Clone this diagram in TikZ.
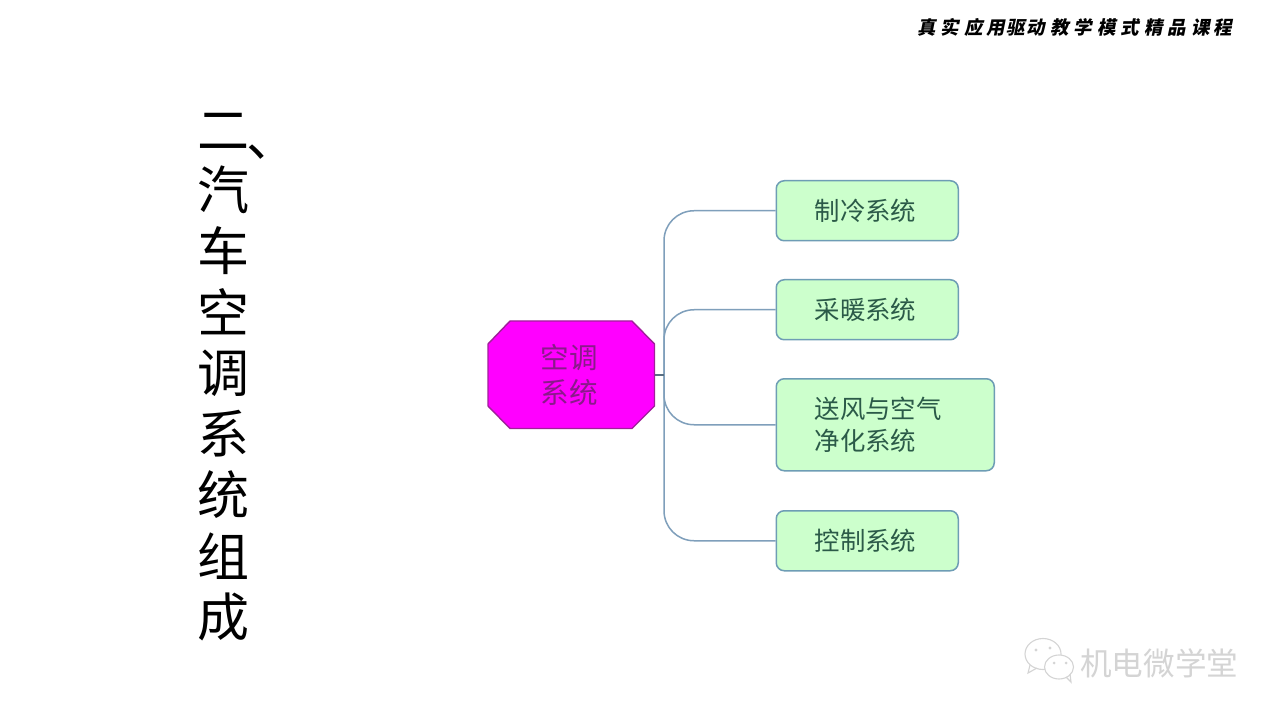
\documentclass[tikz,border=0pt]{standalone}
\usepackage{fontspec}
\setmainfont{Noto Sans CJK SC}
\newfontfamily\cjk{Noto Sans CJK SC}
\begin{document}
\begin{tikzpicture}[x=1pt,y=-1pt,
  leaf/.style={draw=leafline,fill=leaffill,line width=1.5pt,rounded corners=8pt,minimum height=60pt,inner ysep=0pt,inner xsep=38.5pt,align=left,text=leaftext,font=\cjk\fontsize{25.4}{32}\selectfont},
  conn/.style={draw=connline,line width=1.5pt,rounded corners=30pt},
  hub/.style={draw=hubline,fill=hubfill,line width=1.4pt},
  wm/.style={text=wmgray,font=\cjk\fontsize{31.6}{32}\selectfont,inner sep=0pt},
  titlech/.style={inner sep=0pt,font=\cjk\fontsize{52}{52}\selectfont}]
\definecolor{leafline}{HTML}{6E9DB5}
\definecolor{leaffill}{HTML}{CCFFCC}
\definecolor{leaftext}{HTML}{2B5A48}
\definecolor{connline}{HTML}{7F9FBB}
\definecolor{hubline}{HTML}{A0209A}
\definecolor{hubfill}{HTML}{FF00FF}
\definecolor{hubtext}{HTML}{8A1A8A}
\definecolor{wmgray}{HTML}{D4D4D4}
\useasboundingbox (0,0) rectangle (1280,719);
\fill[white] (0,0) rectangle (1280,719);
% title
\node[titlech] (t1) at (223,131) {二};
\node[titlech] (t1c) at (272,152) {、};
\node[titlech] (t2) at (223,190) {汽};
\node[titlech] (t3) at (223,251) {车};
\node[titlech] (t4) at (223,312) {空};
\node[titlech] (t5) at (223,373) {调};
\node[titlech] (t6) at (223,434) {系};
\node[titlech] (t7) at (223,495) {统};
\node[titlech] (t8) at (223,556) {组};
\node[titlech] (t9) at (223,617) {成};
% header
\node[inner sep=0pt,font=\cjk\bfseries\fontsize{18.5}{19}\selectfont,xslant=0.2] (hdr) at (1076,27) {真\hspace{5pt}实\hspace{5pt}应\hspace{4pt}用\hspace{1pt}驱\hspace{2pt}动\hspace{5pt}教\hspace{5pt}学\hspace{5pt}模\hspace{5pt}式\hspace{5pt}精\hspace{5pt}品\hspace{5pt}课\hspace{4pt}程};
% connectors
\coordinate (hubout) at (655,375);
\coordinate (trunk) at (664,375);
\node[leaf,anchor=north west,text width=105pt] (a) at (775.5,180) {制冷系统};
\node[leaf,anchor=north west,text width=105pt] (b) at (775.5,279) {采暖系统};
\node[leaf,anchor=north west,text width=141pt,minimum height=92pt] (c) at (775.5,378) {送风与空气\\净化系统};
\node[leaf,anchor=north west,text width=105pt] (d) at (775.5,510) {控制系统};
\draw[conn] (trunk) -- (trunk |- a.west) -- (a.west);
\draw[conn] (trunk) -- (trunk |- b.west) -- (b.west);
\draw[conn] (trunk) -- (trunk |- c.west) -- (c.west);
\draw[conn] (trunk) -- (trunk |- d.west) -- (d.west);
\draw[connline!70!black,line width=1.8pt] (hubout) -- (trunk);
% hub
\draw[hub] (510,321) -- (632,321) -- (654.5,344) -- (654.5,406) -- (632,428.5) -- (510,428.5) -- (488,406) -- (488,344) -- cycle;
\node[inner sep=0pt,align=center,text=hubtext,font=\cjk\fontsize{28.6}{35.5}\selectfont] (hubt) at (569.5,375) {空调\\系统};
% watermark
\begin{scope}[draw=wmgray,line width=1.1pt,fill=white]
\draw (1043,654) ellipse (18pt and 15.5pt);
\draw (1030,665) -- (1028,673) -- (1037,668);
\draw[fill=white] (1059,667) ellipse (14.5pt and 12pt);
\draw (1066,677) -- (1071,682) -- (1070,674);
\fill[wmgray] (1036,650) circle (1.6pt) (1050,648) circle (1.6pt) (1054,663) circle (1.5pt) (1066,663) circle (1.5pt);
\end{scope}
\node[wm,anchor=west] (wmt) at (1080,663) {机电微学堂};
\end{tikzpicture}
\end{document}
